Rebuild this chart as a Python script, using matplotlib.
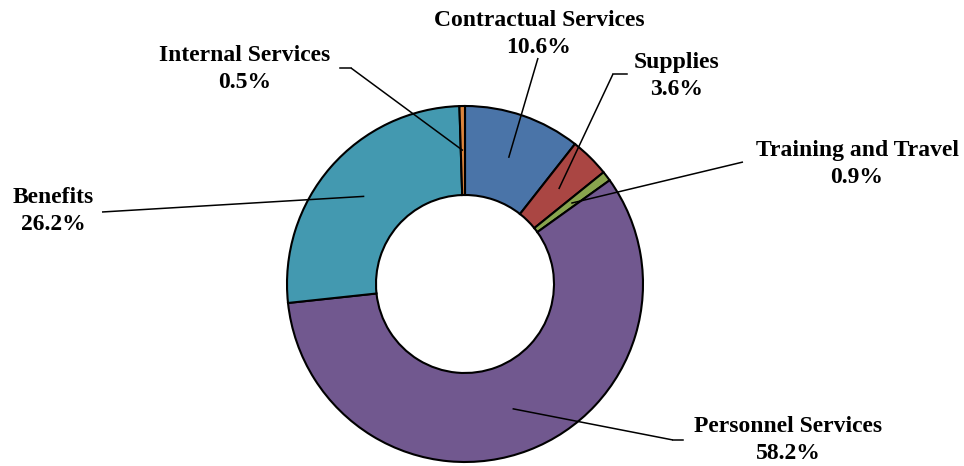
import numpy as np
import matplotlib.pyplot as plt

categories = ["Contractual Services", "Supplies", "Training and Travel",
              "Personnel Services", "Benefits", "Internal Services"]
shares = [10.6, 3.6, 0.9, 58.2, 26.2, 0.5]
colors = ["#4A74A8", "#AA4643", "#89A54E", "#71588F", "#4399B0", "#DB843D"]

# label text centre, leader elbow point and which side of it the short
# horizontal tick runs (pixel coords, y measured from the top)
label_pos = [(539, 34), (677, 76), (857, 164), (788, 440), (53, 211), (245, 69)]
elbows = [(538, 58), (613, 74), (743, 162), (673, 440), (102, 212), (351, 68)]
tick_dx = [0, 14, 0, 10, 0, -11]

W, H = 964, 466
fig = plt.figure(figsize=(W / 100, H / 100), dpi=100)
ax = fig.add_axes([0, 0, 1, 1])

cx, cy = 465, H - 284
R = 178
ring = 0.5
wedges, _ = ax.pie(shares, colors=colors, startangle=90, counterclock=False,
                   radius=R, center=(cx, cy), frame=True,
                   wedgeprops=dict(width=R * ring, edgecolor="black", linewidth=1.5))
ax.set_xlim(0, W)
ax.set_ylim(0, H)
ax.set_aspect("equal")
ax.axis("off")

r_mid = R * (1 - ring / 2)
for w, name, val, (lx, ly), (ex, ey), dx in zip(wedges, categories, shares,
                                                label_pos, elbows, tick_dx):
    ang = np.deg2rad((w.theta1 + w.theta2) / 2)
    px, py = cx + r_mid * np.cos(ang), cy + r_mid * np.sin(ang)
    ey_f = H - ey
    ax.plot([px, ex], [py, ey_f], color="black", lw=1.1, solid_capstyle="butt")
    if dx:
        ax.plot([ex, ex + dx], [ey_f, ey_f], color="black", lw=1.1)
    ax.text(lx, H - ly, f"{name}\n{val:.1f}%", ha="center", va="center",
            fontsize=17, fontweight="bold", family="Liberation Serif",
            linespacing=1.36)

fig.savefig("out.png", dpi=100)
